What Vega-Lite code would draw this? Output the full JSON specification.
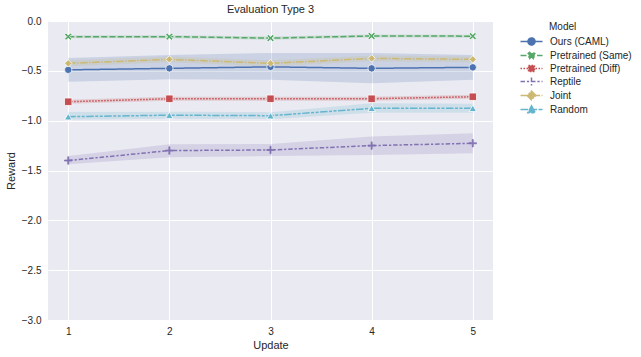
{
  "$schema": "https://vega.github.io/schema/vega-lite/v6.json",
  "width": 445,
  "height": 299,
  "autosize": {"type": "none"},
  "padding": {"left": 48, "top": 21, "right": 148, "bottom": 37},
  "background": "white",
  "title": {"text": "Evaluation Type 3", "fontSize": 11, "font": "Liberation Sans", "fontWeight": "normal", "color": "#262626", "offset": 1},
  "config": {
    "view": {"fill": "#eaeaf2", "stroke": null},
    "axis": {"domain": false, "ticks": false, "gridColor": "white", "gridWidth": 1, "gridOpacity": 1, "labelFont": "Liberation Sans", "labelFontSize": 10, "labelColor": "#262626", "titleFont": "Liberation Sans", "titleFontSize": 11, "titleFontWeight": "normal", "titleColor": "#262626"}
  },
  "resolve": {"legend": {"color": "independent"}},
  "data": {"values": [
    {"Model": "Ours (CAML)", "Update": 1, "m": -0.49, "lo": -0.61, "hi": -0.37},
    {"Model": "Ours (CAML)", "Update": 2, "m": -0.475, "lo": -0.585, "hi": -0.34},
    {"Model": "Ours (CAML)", "Update": 3, "m": -0.46, "lo": -0.59, "hi": -0.32},
    {"Model": "Ours (CAML)", "Update": 4, "m": -0.475, "lo": -0.625, "hi": -0.32},
    {"Model": "Ours (CAML)", "Update": 5, "m": -0.465, "lo": -0.59, "hi": -0.34},
    {"Model": "Pretrained (Same)", "Update": 1, "m": -0.157, "lo": -0.172, "hi": -0.142},
    {"Model": "Pretrained (Same)", "Update": 2, "m": -0.157, "lo": -0.172, "hi": -0.142},
    {"Model": "Pretrained (Same)", "Update": 3, "m": -0.172, "lo": -0.188, "hi": -0.156},
    {"Model": "Pretrained (Same)", "Update": 4, "m": -0.15, "lo": -0.165, "hi": -0.135},
    {"Model": "Pretrained (Same)", "Update": 5, "m": -0.152, "lo": -0.167, "hi": -0.137},
    {"Model": "Pretrained (Diff)", "Update": 1, "m": -0.81, "lo": -0.83, "hi": -0.79},
    {"Model": "Pretrained (Diff)", "Update": 2, "m": -0.78, "lo": -0.8, "hi": -0.76},
    {"Model": "Pretrained (Diff)", "Update": 3, "m": -0.78, "lo": -0.8, "hi": -0.76},
    {"Model": "Pretrained (Diff)", "Update": 4, "m": -0.78, "lo": -0.8, "hi": -0.76},
    {"Model": "Pretrained (Diff)", "Update": 5, "m": -0.76, "lo": -0.78, "hi": -0.74},
    {"Model": "Reptile", "Update": 1, "m": -1.4, "lo": -1.437, "hi": -1.354},
    {"Model": "Reptile", "Update": 2, "m": -1.3, "lo": -1.367, "hi": -1.237},
    {"Model": "Reptile", "Update": 3, "m": -1.294, "lo": -1.354, "hi": -1.234},
    {"Model": "Reptile", "Update": 4, "m": -1.25, "lo": -1.344, "hi": -1.16},
    {"Model": "Reptile", "Update": 5, "m": -1.227, "lo": -1.327, "hi": -1.127},
    {"Model": "Joint", "Update": 1, "m": -0.425, "lo": -0.455, "hi": -0.395},
    {"Model": "Joint", "Update": 2, "m": -0.385, "lo": -0.415, "hi": -0.355},
    {"Model": "Joint", "Update": 3, "m": -0.425, "lo": -0.455, "hi": -0.395},
    {"Model": "Joint", "Update": 4, "m": -0.375, "lo": -0.405, "hi": -0.345},
    {"Model": "Joint", "Update": 5, "m": -0.385, "lo": -0.415, "hi": -0.355},
    {"Model": "Random", "Update": 1, "m": -0.96, "lo": -0.99, "hi": -0.91},
    {"Model": "Random", "Update": 2, "m": -0.945, "lo": -0.98, "hi": -0.91},
    {"Model": "Random", "Update": 3, "m": -0.95, "lo": -0.985, "hi": -0.915},
    {"Model": "Random", "Update": 4, "m": -0.876, "lo": -0.92, "hi": -0.826},
    {"Model": "Random", "Update": 5, "m": -0.876, "lo": -0.92, "hi": -0.83}
  ]},
  "encoding": {
    "x": {"field": "Update", "type": "quantitative", "scale": {"domain": [0.8, 5.2], "nice": false, "zero": false}, "axis": {"values": [1, 2, 3, 4, 5], "format": "d", "title": "Update", "labelPadding": 6, "titlePadding": 3, "grid": true}}
  },
  "layer": [
    {
      "mark": {"type": "area", "opacity": 0.2},
      "encoding": {
        "y": {"field": "lo", "type": "quantitative", "scale": {"domain": [-3, 0], "nice": false, "zero": false}, "axis": {"values": [0, -0.5, -1, -1.5, -2, -2.5, -3], "format": ".1f", "title": "Reward", "labelPadding": 7, "titlePadding": 5}},
        "y2": {"field": "hi"},
        "color": {"field": "Model", "type": "nominal", "scale": {"domain": ["Ours (CAML)", "Pretrained (Same)", "Pretrained (Diff)", "Reptile", "Joint", "Random"], "range": ["#4c72b0", "#55a868", "#c44e52", "#8172b2", "#ccb974", "#64b5cd"]}, "legend": null}
      }
    },
    {
      "mark": {"type": "line", "strokeWidth": 1.5},
      "encoding": {
        "y": {"field": "m", "type": "quantitative"},
        "color": {"field": "Model", "type": "nominal", "legend": null},
        "strokeDash": {"field": "Model", "type": "nominal", "scale": {"domain": ["Ours (CAML)", "Pretrained (Same)", "Pretrained (Diff)", "Reptile", "Joint", "Random"], "range": [[1, 0], [6, 2.25], [1.5, 1.5], [4.5, 1.875, 2.25, 1.875], [7.5, 1.5, 1.5, 1.5], [7.5, 1.5, 3, 1.5, 3, 1.5]]}, "legend": null}
      }
    },
    {
      "mark": {"type": "point", "filled": true, "opacity": 1, "strokeWidth": 0.75, "strokeOpacity": 1},
      "encoding": {
        "y": {"field": "m", "type": "quantitative"},
        "color": {"field": "Model", "type": "nominal", "legend": {
          "title": "Model", "orient": "none", "legendX": 477, "legendY": 1,
          "symbolSize": 121, "rowPadding": -1, "labelOffset": 12,
          "labelFont": "Liberation Sans", "labelFontSize": 10, "labelColor": "#262626",
          "titleFont": "Liberation Sans", "titleFontSize": 10, "titleFontWeight": "normal", "titleColor": "#262626", "titlePadding": 3, "titleAnchor": "start",
          "encoding": {
            "title": {"dx": {"value": 24}},
            "symbols": {
              "size": {"value": 121},
              "strokeWidth": {"value": 1.5},
              "opacity": {"value": 1},
              "fillOpacity": {"value": 1},
              "strokeOpacity": {"value": 1},
              "fill": {"value": {"expr": "scale('color', datum.value)"}},
              "stroke": {"value": {"expr": "scale('color', datum.value)"}},
              "strokeDash": {"value": {"expr": "datum.value === 'Ours (CAML)' ? [1,0] : datum.value === 'Pretrained (Same)' ? [6,2.25] : datum.value === 'Pretrained (Diff)' ? [1.5,1.5] : datum.value === 'Reptile' ? [4.5,1.875,2.25,1.875] : datum.value === 'Joint' ? [7.5,1.5,1.5,1.5] : [7.5,1.5,3,1.5,3,1.5]"}},
              "shape": {"value": {"expr": "datum.value === 'Ours (CAML)' ? 'M-2,0H2M0.64,0A0.64,0.64,0,1,1,-0.64,0A0.64,0.64,0,1,1,0.64,0Z' : datum.value === 'Pretrained (Same)' ? 'M-2,0H2M-0.6,-0.36L-0.36,-0.6L0,-0.24L0.36,-0.6L0.6,-0.36L0.24,0L0.6,0.36L0.36,0.6L0,0.24L-0.36,0.6L-0.6,0.36L-0.24,0Z' : datum.value === 'Pretrained (Diff)' ? 'M-2,0H2M-0.54,-0.54H0.54V0.54H-0.54Z' : datum.value === 'Reptile' ? 'M-2,0H2M0,-0.72V0.72' : datum.value === 'Joint' ? 'M-2,0H2M0,-0.8L0.8,0L0,0.8L-0.8,0Z' : 'M-2,0H2M0,-0.68L0.68,0.6H-0.68Z'"}}
            }
          }
        }},
        "shape": {"field": "Model", "type": "nominal", "scale": {"domain": ["Ours (CAML)", "Pretrained (Same)", "Pretrained (Diff)", "Reptile", "Joint", "Random"], "range": ["circle", "M-1,-0.6L-0.6,-1L0,-0.4L0.6,-1L1,-0.6L0.4,0L1,0.6L0.6,1L0,0.4L-0.6,1L-1,0.6L-0.4,0Z", "square", "M-0.14,-1H0.14V-0.14H1V0.14H0.14V1H-0.14V0.14H-1V-0.14H-0.14Z", "diamond", "triangle-up"]}, "legend": null},
        "stroke": {"field": "Model", "type": "nominal", "scale": {"domain": ["Ours (CAML)", "Pretrained (Same)", "Pretrained (Diff)", "Reptile", "Joint", "Random"], "range": ["white", "white", "white", "#8172b2", "white", "white"]}, "legend": null},
        "size": {"field": "Model", "type": "nominal", "scale": {"domain": ["Ours (CAML)", "Pretrained (Same)", "Pretrained (Diff)", "Reptile", "Joint", "Random"], "range": [55, 55, 45, 70, 85, 60]}, "legend": null}
      }
    }
  ]
}
